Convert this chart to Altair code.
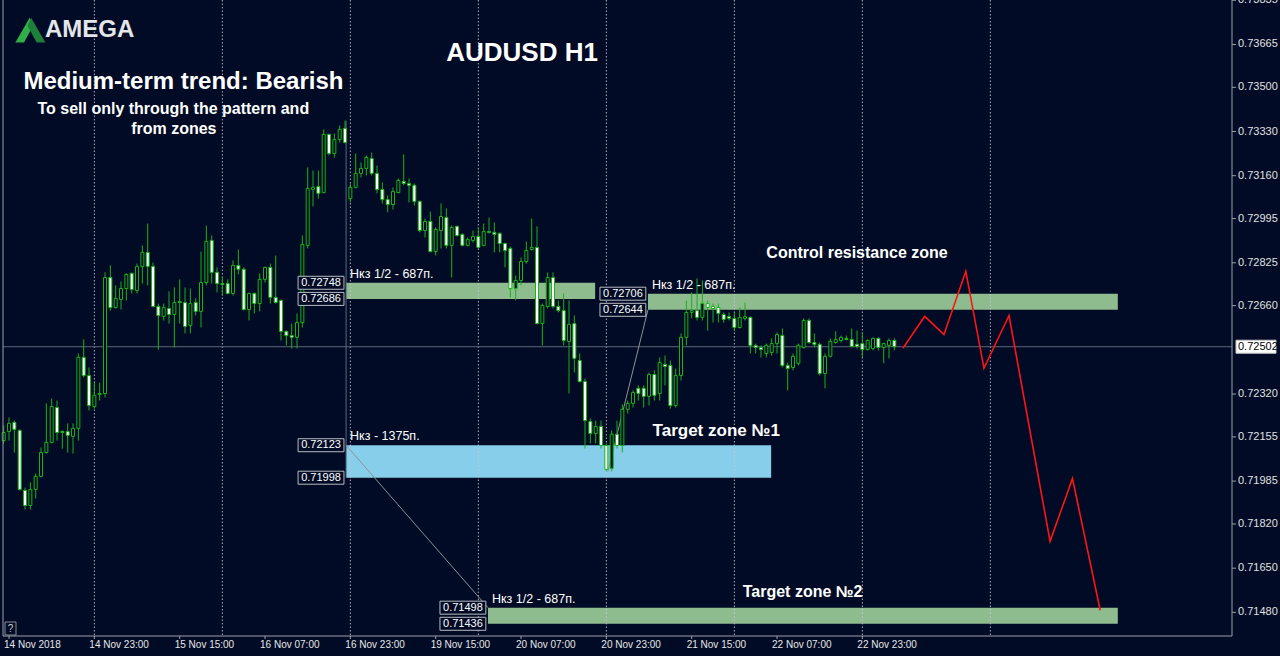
import altair as alt
import pandas as pd

BG = "#010b25"
WICK = "#17b317"
FRAME = "#9ca0a8"
FONT = "Liberation Sans, Arial, DejaVu Sans"

# ---- AUDUSD H1 candles (one bar per hour, index 0 = first visible bar) ----
open_ = [
    0.72141, 0.72176, 0.72211, 0.72180, 0.71949, 0.71891, 0.71953, 0.72003, 0.72095, 0.72134,
    0.72268, 0.72176, 0.72176, 0.72157, 0.72188, 0.72461, 0.72391, 0.72272, 0.72318, 0.72322,
    0.72768, 0.72653, 0.72684, 0.72726, 0.72784, 0.72718, 0.72811, 0.72865, 0.72811, 0.72657,
    0.72618, 0.72649, 0.72626, 0.72676, 0.72672, 0.72584, 0.72672, 0.72638, 0.72749, 0.72911,
    0.72788, 0.72745, 0.72745, 0.72707, 0.72815, 0.72800, 0.72645, 0.72707, 0.72668, 0.72761,
    0.72807, 0.72692, 0.72680, 0.72561, 0.72545, 0.72538, 0.72595, 0.72892, 0.73107, 0.73118,
    0.73095, 0.73319, 0.73245, 0.73299, 0.73342, 0.73072, 0.73115, 0.73169, 0.73188, 0.73226,
    0.73169, 0.73107, 0.73068, 0.73049, 0.73095, 0.73138, 0.73130, 0.73123, 0.73061, 0.72949,
    0.72984, 0.72868, 0.72949, 0.72999, 0.72892, 0.72965, 0.72934, 0.72892, 0.72911, 0.72926,
    0.72892, 0.72945, 0.72942, 0.72938, 0.72899, 0.72880, 0.72726, 0.72757, 0.72830, 0.72876,
    0.72884, 0.72591, 0.72657, 0.72768, 0.72657, 0.72641, 0.72522, 0.72591, 0.72449, 0.72368,
    0.72214, 0.72168, 0.72195, 0.72122, 0.72034, 0.72165, 0.72122, 0.72261, 0.72284, 0.72342,
    0.72342, 0.72311, 0.72395, 0.72322, 0.72434, 0.72430, 0.72276, 0.72391, 0.72538, 0.72634,
    0.72641, 0.72615, 0.72668, 0.72657, 0.72653, 0.72626, 0.72618, 0.72611, 0.72576, 0.72611,
    0.72615, 0.72507, 0.72499, 0.72476, 0.72480, 0.72514, 0.72545, 0.72430, 0.72422, 0.72438,
    0.72499, 0.72603, 0.72518, 0.72511, 0.72399, 0.72465, 0.72518, 0.72526, 0.72534, 0.72530,
    0.72511, 0.72514, 0.72491, 0.72495, 0.72534, 0.72499, 0.72507, 0.72526,
]
high_ = [
    0.72199, 0.72230, 0.72218, 0.72184, 0.71960, 0.71980, 0.72014, 0.72114, 0.72284, 0.72303,
    0.72295, 0.72180, 0.72207, 0.72207, 0.72476, 0.72530, 0.72422, 0.72364, 0.72364, 0.72788,
    0.72815, 0.72738, 0.72753, 0.72784, 0.72788, 0.72822, 0.72892, 0.72976, 0.72826, 0.72668,
    0.72668, 0.72715, 0.72730, 0.72761, 0.72730, 0.72726, 0.72688, 0.72868, 0.72968, 0.72930,
    0.72807, 0.72772, 0.72761, 0.72834, 0.72876, 0.72807, 0.72711, 0.72711, 0.72784, 0.72811,
    0.72822, 0.72853, 0.72684, 0.72564, 0.72591, 0.72630, 0.72930, 0.73192, 0.73180, 0.73180,
    0.73338, 0.73322, 0.73322, 0.73353, 0.73372, 0.73130, 0.73245, 0.73211, 0.73238, 0.73249,
    0.73199, 0.73134, 0.73084, 0.73115, 0.73149, 0.73242, 0.73149, 0.73130, 0.73065, 0.72995,
    0.73022, 0.72961, 0.73053, 0.73034, 0.72968, 0.72968, 0.72938, 0.72922, 0.72949, 0.72961,
    0.72976, 0.72999, 0.72980, 0.72942, 0.72903, 0.72888, 0.72776, 0.72845, 0.72907, 0.72995,
    0.72965, 0.72668, 0.72788, 0.72788, 0.72680, 0.72707, 0.72680, 0.72622, 0.72476, 0.72380,
    0.72226, 0.72218, 0.72218, 0.72130, 0.72180, 0.72218, 0.72280, 0.72295, 0.72334, 0.72353,
    0.72353, 0.72403, 0.72411, 0.72461, 0.72468, 0.72449, 0.72418, 0.72553, 0.72680, 0.72711,
    0.72765, 0.72757, 0.72680, 0.72668, 0.72668, 0.72634, 0.72634, 0.72634, 0.72653, 0.72672,
    0.72618, 0.72514, 0.72507, 0.72514, 0.72534, 0.72557, 0.72572, 0.72441, 0.72476, 0.72514,
    0.72611, 0.72611, 0.72553, 0.72518, 0.72476, 0.72534, 0.72561, 0.72545, 0.72545, 0.72572,
    0.72564, 0.72557, 0.72530, 0.72538, 0.72538, 0.72518, 0.72534, 0.72534,
]
low_ = [
    0.72130, 0.72141, 0.72095, 0.71949, 0.71876, 0.71876, 0.71918, 0.71999, 0.72091, 0.72130,
    0.72141, 0.72110, 0.72095, 0.72091, 0.72141, 0.72384, 0.72257, 0.72264, 0.72295, 0.72307,
    0.72641, 0.72649, 0.72645, 0.72680, 0.72707, 0.72707, 0.72745, 0.72738, 0.72653, 0.72491,
    0.72603, 0.72591, 0.72499, 0.72591, 0.72553, 0.72553, 0.72622, 0.72576, 0.72738, 0.72745,
    0.72711, 0.72699, 0.72703, 0.72699, 0.72780, 0.72641, 0.72603, 0.72630, 0.72638, 0.72749,
    0.72668, 0.72668, 0.72526, 0.72507, 0.72495, 0.72495, 0.72576, 0.72880, 0.73042, 0.73072,
    0.73092, 0.73238, 0.73230, 0.73288, 0.73284, 0.73057, 0.73111, 0.73153, 0.73161, 0.73161,
    0.73092, 0.73053, 0.73019, 0.73030, 0.73092, 0.73123, 0.73057, 0.73045, 0.72942, 0.72922,
    0.72865, 0.72853, 0.72880, 0.72880, 0.72768, 0.72926, 0.72888, 0.72888, 0.72903, 0.72880,
    0.72888, 0.72938, 0.72865, 0.72865, 0.72807, 0.72692, 0.72680, 0.72738, 0.72822, 0.72872,
    0.72588, 0.72507, 0.72649, 0.72649, 0.72634, 0.72507, 0.72322, 0.72403, 0.72364, 0.72110,
    0.72130, 0.72130, 0.72110, 0.72022, 0.72022, 0.72110, 0.72095, 0.72245, 0.72268, 0.72295,
    0.72268, 0.72276, 0.72295, 0.72295, 0.72353, 0.72264, 0.72268, 0.72372, 0.72507, 0.72611,
    0.72603, 0.72603, 0.72564, 0.72595, 0.72595, 0.72595, 0.72603, 0.72564, 0.72572, 0.72603,
    0.72476, 0.72476, 0.72461, 0.72461, 0.72468, 0.72476, 0.72422, 0.72334, 0.72411, 0.72430,
    0.72495, 0.72514, 0.72499, 0.72391, 0.72342, 0.72461, 0.72514, 0.72518, 0.72526, 0.72499,
    0.72495, 0.72461, 0.72488, 0.72488, 0.72488, 0.72438, 0.72457, 0.72488,
]
close_ = [
    0.72172, 0.72207, 0.72184, 0.71953, 0.71891, 0.71953, 0.72003, 0.72095, 0.72134, 0.72272,
    0.72172, 0.72172, 0.72161, 0.72188, 0.72461, 0.72391, 0.72276, 0.72315, 0.72322, 0.72768,
    0.72653, 0.72688, 0.72726, 0.72780, 0.72722, 0.72811, 0.72865, 0.72811, 0.72657, 0.72622,
    0.72653, 0.72626, 0.72672, 0.72672, 0.72580, 0.72668, 0.72638, 0.72749, 0.72907, 0.72788,
    0.72745, 0.72741, 0.72707, 0.72815, 0.72800, 0.72645, 0.72707, 0.72668, 0.72761, 0.72807,
    0.72692, 0.72672, 0.72561, 0.72545, 0.72538, 0.72595, 0.72895, 0.73111, 0.73115, 0.73092,
    0.73319, 0.73245, 0.73299, 0.73338, 0.73288, 0.73115, 0.73169, 0.73188, 0.73230, 0.73169,
    0.73107, 0.73068, 0.73049, 0.73099, 0.73142, 0.73130, 0.73123, 0.73061, 0.72949, 0.72984,
    0.72868, 0.72953, 0.73003, 0.72892, 0.72961, 0.72930, 0.72892, 0.72915, 0.72926, 0.72884,
    0.72945, 0.72942, 0.72934, 0.72899, 0.72872, 0.72726, 0.72757, 0.72830, 0.72872, 0.72884,
    0.72591, 0.72661, 0.72768, 0.72657, 0.72641, 0.72526, 0.72588, 0.72457, 0.72368, 0.72218,
    0.72168, 0.72195, 0.72122, 0.72030, 0.72165, 0.72122, 0.72261, 0.72284, 0.72326, 0.72322,
    0.72311, 0.72395, 0.72315, 0.72441, 0.72426, 0.72276, 0.72391, 0.72538, 0.72634, 0.72641,
    0.72615, 0.72668, 0.72653, 0.72649, 0.72630, 0.72607, 0.72611, 0.72576, 0.72615, 0.72618,
    0.72507, 0.72499, 0.72491, 0.72507, 0.72514, 0.72549, 0.72430, 0.72418, 0.72465, 0.72507,
    0.72603, 0.72518, 0.72511, 0.72399, 0.72465, 0.72522, 0.72530, 0.72538, 0.72530, 0.72503,
    0.72503, 0.72491, 0.72526, 0.72534, 0.72499, 0.72514, 0.72526, 0.72502,
]

# ---- axes ----
price_ticks = [0.73835, 0.73665, 0.73500, 0.73330, 0.73160, 0.72995, 0.72825, 0.72660,
               0.72320, 0.72155, 0.71985, 0.71820, 0.71650, 0.71480]
time_label_bars = [1, 17, 33, 49, 65, 81, 97, 113, 129, 145, 161]
time_labels = ["14 Nov 2018", "14 Nov 23:00", "15 Nov 15:00", "16 Nov 07:00", "16 Nov 23:00",
               "19 Nov 15:00", "20 Nov 07:00", "20 Nov 23:00", "21 Nov 15:00", "22 Nov 07:00",
               "22 Nov 23:00"]
day_separators = [17, 41, 65, 89, 113, 137, 161, 185]
last_price = 0.72502

# ---- zones (bar index of left/right edge, price bounds) ----
zone_start = [64.2, 120.8, 64.2, 90.8]
zone_end = [110.9, 208.9, 143.9, 208.9]
zone_top = [0.72748, 0.72706, 0.72123, 0.71498]
zone_bottom = [0.72686, 0.72644, 0.71998, 0.71436]
zone_color = ["#8fbc8f", "#8fbc8f", "#87ceeb", "#8fbc8f"]
zone_note = ["Нкз 1/2 - 687п.", "Нкз 1/2 - 687п.", "Нкз - 1375п.", "Нкз 1/2 - 687п."]

# ---- projected path ----
path_bar = [168.6, 172.7, 176.3, 180.4, 183.8, 188.5, 196.2, 200.4, 205.6]
path_price = [0.72496, 0.72619, 0.72549, 0.72792, 0.72419, 0.72622, 0.71753, 0.71995, 0.71488]

# ---- measuring lines ----
diag_bar = [64.2, 90.8, 113.3, 120.8]
diag_price = [0.72123, 0.71498, 0.72022, 0.72644]
diag_seg = ["a", "a", "b", "b"]
anchor_bar = 64.2
anchor_top = 0.73372
anchor_bottom = 0.71998

W, H = 1229, 636
xs = alt.Scale(domain=[-0.13, 230.31], nice=False, zero=False)
ys = alt.Scale(domain=[0.71389, 0.73836], nice=False, zero=False)

bars = pd.DataFrame({"i": list(range(len(close_))), "open": open_, "high": high_,
                     "low": low_, "close": close_})
zones = pd.DataFrame({"x1": zone_start, "x2": zone_end, "top": zone_top,
                      "bottom": zone_bottom, "color": zone_color, "note": zone_note})
levels = pd.DataFrame({
    "start": zone_start + zone_start,
    "p": zone_top + zone_bottom,
    "label": [f"{v:.5f}" for v in zone_top + zone_bottom],
})


def X(field):
    return alt.X(field, type="quantitative", scale=xs, axis=None)


def Y(field):
    return alt.Y(field, type="quantitative", scale=ys, axis=None)


zone_layer = alt.Chart(zones).mark_rect().encode(
    x=X("x1"), x2="x2", y=Y("top"), y2="bottom",
    color=alt.Color("color:N", scale=None),
)

grid_layer = alt.Chart(pd.DataFrame({"i": day_separators})).mark_rule(
    color="#c5c9d2", strokeDash=[1.5, 2], strokeWidth=1, opacity=0.85
).encode(x=X("i"))

price_line = alt.Chart(pd.DataFrame({"p": [last_price]})).mark_rule(
    color="#5e6678", strokeWidth=1
).encode(y=Y("p"))

anchor_layer = alt.Chart(pd.DataFrame({"i": [anchor_bar], "a": [anchor_top],
                                       "b": [anchor_bottom]})).mark_rule(
    color="#5a6a84", strokeWidth=1
).encode(x=X("i"), y=Y("a"), y2="b")

diag_layer = alt.Chart(pd.DataFrame({"i": diag_bar, "p": diag_price, "seg": diag_seg})).mark_line(
    color="#8c9096", strokeWidth=1
).encode(x=X("i"), y=Y("p"), detail="seg:N")

wicks = alt.Chart(bars).mark_rule(color=WICK, strokeWidth=1).encode(
    x=X("i"), y=Y("low"), y2="high",
)

bodies = alt.Chart(bars).transform_calculate(
    left="datum.i - 0.28", right="datum.i + 0.28"
).mark_rect(stroke=WICK, strokeWidth=1).encode(
    x=X("left"), x2="right", y=Y("open"), y2="close",
    fill=alt.condition("datum.close < datum.open", alt.value("#ffffff"), alt.value(BG)),
)

level_boxes = alt.Chart(levels).transform_calculate(
    bx1="datum.start - 9.0", bx2="datum.start - 0.4",
    by1="datum.p + 0.00025", by2="datum.p - 0.00025",
).mark_rect(fill=BG, stroke="#b8bcc4", strokeWidth=1).encode(
    x=X("bx1"), x2="bx2", y=Y("by1"), y2="by2"
)
level_text = alt.Chart(levels).transform_calculate(
    cx="datum.start - 4.7"
).mark_text(font=FONT, fontSize=11, color="#ffffff", align="center", baseline="middle").encode(
    x=X("cx"), y=Y("p"), text="label:N"
)

zone_notes = alt.Chart(zones).mark_text(
    font=FONT, fontSize=12.5, color="#ffffff", align="left", baseline="middle", dx=4, dy=-9
).encode(x=X("x1"), y=Y("top"), text="note:N")

titles = pd.DataFrame({
    "i": [97.2, 33.7, 31.8, 31.9, 160.0, 133.6, 149.8],
    "p": [0.73634, 0.73522, 0.73415, 0.73338, 0.72861, 0.72176, 0.71560],
    "text": ["AUDUSD H1", "Medium-term trend: Bearish", "To sell only through the pattern and",
             "from zones", "Control resistance zone", "Target zone №1", "Target zone №2"],
    "size": [26, 24, 16, 16, 16, 17, 16],
})
title_layer = alt.Chart(titles).mark_text(
    font=FONT, fontWeight="bold", color="#ffffff", align="center", baseline="middle"
).encode(x=X("i"), y=Y("p"), text="text:N", size=alt.Size("size:Q", scale=None, legend=None))

path_layer = alt.Chart(pd.DataFrame({"i": path_bar, "p": path_price})).mark_line(
    color="#ff1414", strokeWidth=1.6
).encode(x=X("i"), y=Y("p"))

# brand mark: two legs of a stylised "A"
leg_left = "M -1 0.8 L -0.05 -0.85 L 0.22 -0.38 L -0.42 0.8 Z"
leg_right = "M 0.05 -0.85 L 1 0.8 L 0.42 0.8 L -0.18 -0.3 Z"
logo_pos = pd.DataFrame({"i": [5.0], "p": [0.73719]})
logo_a = alt.Chart(logo_pos).mark_point(shape=leg_left, filled=True, size=900,
                                        color="#2fae4a", opacity=1).encode(x=X("i"), y=Y("p"))
logo_b = alt.Chart(logo_pos).mark_point(shape=leg_right, filled=True, size=900,
                                        color="#1d7f3a", opacity=1).encode(x=X("i"), y=Y("p"))
logo_text = alt.Chart(pd.DataFrame({"i": [7.74], "p": [0.73719], "t": ["AMEGA"]})).mark_text(
    font=FONT, fontWeight="bold", fontSize=24, color="#e3e6ea", align="left", baseline="middle"
).encode(x=X("i"), y=Y("p"), text="t:N")

# price scale on the right: ticks and labels
price_df = pd.DataFrame({"p": price_ticks, "label": [f"{v:.5f}" for v in price_ticks]})
price_tick_marks = alt.Chart(price_df).mark_rule(color=FRAME).encode(
    x=alt.value(W), x2=alt.value(W + 4), y=Y("p"))
price_labels = alt.Chart(price_df).mark_text(
    font=FONT, fontSize=11, color="#e0e0e0", align="left", baseline="middle"
).encode(x=alt.value(W + 6), y=Y("p"), text="label:N")

# time scale at the bottom: ticks and labels
time_df = pd.DataFrame({"i": time_label_bars, "label": time_labels})
time_tick_marks = alt.Chart(time_df).mark_rule(color=FRAME).encode(
    x=X("i"), y=alt.value(H), y2=alt.value(H + 3))
time_label_text = alt.Chart(time_df).mark_text(
    font=FONT, fontSize=10, color="#e8e8e8", align="left", baseline="top", dx=-5
).encode(x=X("i"), y=alt.value(H + 4), text="label:N")

cur = pd.DataFrame({"p": [last_price], "label": [f"{last_price:.5f}"]})
cur_box = alt.Chart(cur).transform_calculate(
    a="datum.p + 0.00025", b="datum.p - 0.00025"
).mark_rect(fill="#ffffff", stroke="#c8c8c8").encode(
    x=alt.value(W + 4), x2=alt.value(W + 44), y=Y("a"), y2="b"
)
cur_text = alt.Chart(cur).mark_text(
    font=FONT, fontSize=11, color="#000000", align="left", baseline="middle"
).encode(x=alt.value(W + 6), y=Y("p"), text="label:N")

# chart frame: left, bottom and right edges
edge = pd.DataFrame({"k": [0]})
frame_left = alt.Chart(edge).mark_rule(color=FRAME).encode(
    x=alt.value(0), y=alt.value(0), y2=alt.value(H))
frame_right = alt.Chart(edge).mark_rule(color=FRAME).encode(
    x=alt.value(W), y=alt.value(0), y2=alt.value(H))
frame_bottom = alt.Chart(edge).mark_rule(color=FRAME).encode(
    x=alt.value(0), x2=alt.value(W), y=alt.value(H))

help_box = alt.Chart(pd.DataFrame({"t": ["?"]})).mark_rect(
    fill=BG, stroke="#8a8e96", strokeWidth=1
).encode(x=alt.value(2), x2=alt.value(13), y=alt.value(622), y2=alt.value(635))
help_text = alt.Chart(pd.DataFrame({"t": ["?"]})).mark_text(
    font=FONT, fontSize=10, color="#c8ccd4", align="center", baseline="middle"
).encode(x=alt.value(7.5), y=alt.value(629), text="t:N")

chart = alt.layer(
    zone_layer, grid_layer, price_line, anchor_layer, diag_layer,
    wicks, bodies, level_boxes, level_text, zone_notes, path_layer,
    title_layer, logo_a, logo_b, logo_text,
    price_tick_marks, price_labels, time_tick_marks, time_label_text,
    cur_box, cur_text, frame_left, frame_right, frame_bottom, help_box, help_text,
).properties(
    width=W, height=H,
    padding={"left": 3, "top": 0, "right": 48, "bottom": 20},
    autosize=alt.AutoSizeParams(type="none"),
).configure(background=BG).configure_view(stroke=None)

chart.save("out.html", embed_options={"renderer": "svg", "actions": False})
